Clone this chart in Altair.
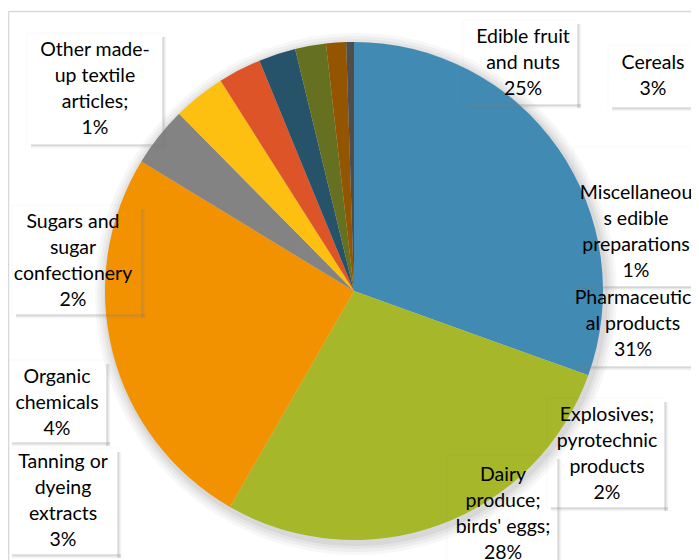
import altair as alt
import pandas as pd

# ---- data ----
categories = [
    "Pharmaceutical products",
    "Dairy produce; birds' eggs;",
    "Edible fruit and nuts",
    "Organic chemicals",
    "Tanning or dyeing extracts",
    "Cereals",
    "Explosives; pyrotechnic products",
    "Sugars and sugar confectionery",
    "Miscellaneous edible preparations",
    "Other made-up textile articles;",
]
values = [30.5, 27.8, 25.4, 3.9, 3.4, 2.8, 2.4, 2.0, 1.3, 0.5]
slice_colors = ["#418AB3", "#A6B72A", "#F39200", "#838383", "#FDC010",
                "#DE5429", "#265369", "#657020", "#935500", "#4E4E4E"]

# wrapped label lines (as in the original data labels)
label_lines = [
    ["Pharmaceutic", "al products"],
    ["Dairy", "produce;", "birds' eggs;"],
    ["Edible fruit", "and nuts"],
    ["Organic", "chemicals"],
    ["Tanning or", "dyeing", "extracts"],
    ["Cereals"],
    ["Explosives;", "pyrotechnic", "products"],
    ["Sugars and", "sugar", "confectionery"],
    ["Miscellaneou", "s edible", "preparations"],
    ["Other made-", "up textile", "articles;"],
]

# ---- layout (label box placement, chart pixels) ----
W, H = 683, 552
CX, CY, R = 346, 283, 249
label_cx = [625, 495, 515, 49, 55, 645, 599, 65, 628, 87]
label_y0 = [290, 467, 29, 369, 454, 55, 407, 214, 185, 42]   # first line centre
box_x1 = [565, 439, 455, 0, 0, 600, 539, 4, 565, 19]
box_x2 = [702, 550, 570, 99, 110, 692, 657, 134, 702, 155]
box_y1 = [279, 447, 12, 352, 440, 37, 390, 197, 139, 25]
box_y2 = [359, 570, 97, 435, 547, 100, 500, 307, 279, 137]

FONT = "Lato"
FONT_SIZE = 19.5
LINE_H = 26

pie_df = pd.DataFrame({
    "category": categories,
    "value": values,
    "order": list(range(len(values))),
})

labels_df = pd.DataFrame({
    "text": ["\n".join(lines + [f"{int(v + 0.5)}%"]) for lines, v in zip(label_lines, values)],
    "x": label_cx,
    "y": label_y0,
})

# soft box shadows along bottom and right edges
shadow_rows = []
for x1, x2, y1, y2 in zip(box_x1, box_x2, box_y1, box_y2):
    for k, op in enumerate([0.4, 0.25, 0.13, 0.05]):
        shadow_rows.append({"x": x1 + 4, "x2": x2 + 3, "y": y2 + k, "y2": y2 + k, "op": op})
        shadow_rows.append({"x": x2 + k, "x2": x2 + k, "y": y1 + 4, "y2": y2 + 3, "op": op})
    shadow_rows.append({"x": x1, "x2": x2, "y": y1, "y2": y1, "op": 0.04})
    shadow_rows.append({"x": x1, "x2": x1, "y": y1, "y2": y2, "op": 0.04})
shadow_df = pd.DataFrame(shadow_rows)

xs = alt.Scale(domain=[0, W], range=[0, W])
ys = alt.Scale(domain=[0, H], range=[0, H])

frame_df = pd.DataFrame([
    {"x": 0.5, "x2": W, "y": 3.5, "y2": 3.5},
    {"x": 0.5, "x2": 0.5, "y": 3.5, "y2": H},
])
frame = alt.Chart(frame_df).mark_rule(color="#D9D9D9", strokeWidth=1.5).encode(
    x=alt.X("x:Q", scale=xs, axis=None), x2="x2:Q",
    y=alt.Y("y:Q", scale=ys, axis=None), y2="y2:Q",
)

glow_df = pd.DataFrame({"g": [1]})
glows = []
for dr, op in [(12, 0.03), (9, 0.035), (6, 0.04), (3, 0.05)]:
    glows.append(
        alt.Chart(glow_df).mark_arc(outerRadius=R + dr, color="#000000", opacity=op).encode(
            theta=alt.Theta("g:Q"),
            x=alt.value(CX + 2), y=alt.value(CY + 3),
        )
    )

pie = alt.Chart(pie_df).mark_arc(outerRadius=R).encode(
    theta=alt.Theta("value:Q", stack=True),
    order=alt.Order("order:Q"),
    color=alt.Color("category:N", scale=alt.Scale(domain=categories, range=slice_colors), legend=None),
    x=alt.value(CX), y=alt.value(CY),
)

shadows = alt.Chart(shadow_df).mark_rule(color="#7F7F7F", strokeWidth=1).encode(
    x=alt.X("x:Q", scale=xs, axis=None), x2="x2:Q",
    y=alt.Y("y:Q", scale=ys, axis=None), y2="y2:Q",
    opacity=alt.Opacity("op:Q", scale=None),
)

texts = alt.Chart(labels_df).mark_text(
    font=FONT, fontSize=FONT_SIZE, color="#000000", align="center", baseline="middle",
    lineBreak="\n", lineHeight=LINE_H,
).encode(
    x=alt.X("x:Q", scale=xs, axis=None),
    y=alt.Y("y:Q", scale=ys, axis=None),
    text="text:N",
)

chart = alt.layer(frame, *glows, pie, shadows, texts).properties(
    width=W, height=H,
    autosize=alt.AutoSizeParams(type="none"),
    padding=0,
).configure_view(stroke=None).resolve_scale(theta="independent")

chart.save("out.html", embed_options={"renderer": "svg", "actions": False})
